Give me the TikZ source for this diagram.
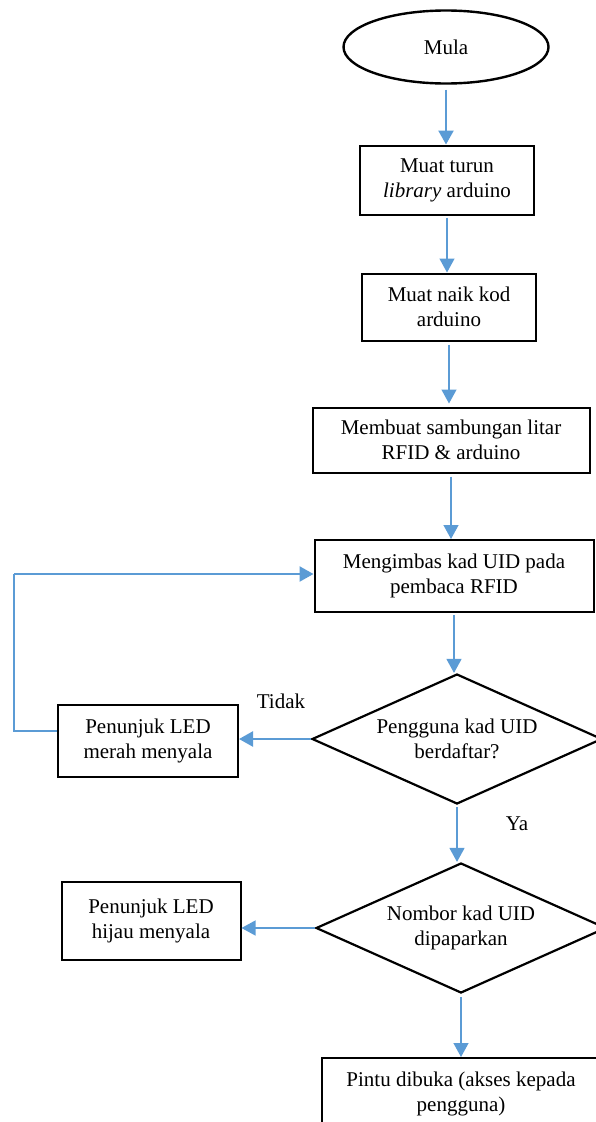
\documentclass[tikz,border=0pt]{standalone}
\usepackage{fontspec}
\setmainfont{Liberation Serif}
\usetikzlibrary{shapes.geometric,arrows.meta}

\definecolor{flowblue}{HTML}{5B9BD5}

\tikzset{
  startnode/.style={draw, ellipse, line width=2.4pt, inner sep=0pt,
    minimum width=205pt, minimum height=73pt},
  stepbox/.style={draw, rectangle, line width=2pt, align=center, inner sep=0pt},
  choice/.style={draw, diamond, line width=2.2pt, align=center, inner sep=0pt,
    aspect=2.2, minimum width=290pt, minimum height=130pt},
  flow/.style={flowblue, line width=1.3pt, -{Triangle[width=15pt,length=14pt]}},
  boldflow/.style={flow, line width=2.4pt},
  plainline/.style={flowblue, line width=1.2pt}
}

\begin{document}
\begin{tikzpicture}[x=1pt,y=-1pt,font=\fontsize{21}{25}\selectfont]
  \useasboundingbox (0,0) rectangle (596,1122);

  % main column
  \node[startnode] (mula) at (446,47) {Mula};
  \node[stepbox, minimum width=174pt, minimum height=69pt] (muatturun) at (447,180)
    {Muat turun\\\textit{library} arduino};
  \node[stepbox, minimum width=174pt, minimum height=67pt] (muatnaik) at (449,307)
    {Muat naik kod\\arduino};
  \node[stepbox, minimum width=277pt, minimum height=65pt] (sambung) at (451,440)
    {Membuat sambungan litar\\RFID \& arduino};
  \node[stepbox, minimum width=279pt, minimum height=72pt] (imbas) at (454,576)
    {Mengimbas kad UID pada\\pembaca RFID};
  \node[choice] (daftar) at (457,739) {Pengguna kad UID\\berdaftar?};
  \node[choice] (nombor) at (461,928) {Nombor kad UID\\dipaparkan};
  \node[stepbox, minimum width=278pt, minimum height=72pt] (pintu) at (461,1094)
    {Pintu dibuka (akses kepada\\pengguna)};

  % side boxes
  \node[stepbox, minimum width=180pt, minimum height=72pt] (merah) at (148,741)
    {Penunjuk LED\\merah menyala};
  \node[stepbox, minimum width=179pt, minimum height=78pt] (hijau) at (151,921)
    {Penunjuk LED\\hijau menyala};

  \node (tidak) at (281,701) {Tidak};
  \node (ya) at (517,824) {Ya};
  \coordinate (balik) at (14,574);

  % arrows
  \draw[boldflow, shorten <=5pt] (mula.south) -- (mula.south |- muatturun.north);
  \draw[flow, shorten <=2pt] (muatturun.south) -- (muatturun.south |- muatnaik.north);
  \draw[flow, shorten <=3pt, shorten >=3pt] (muatnaik.south) -- (muatnaik.south |- sambung.north);
  \draw[flow, shorten <=3pt] (sambung.south) -- (sambung.south |- imbas.north);
  \draw[flow, shorten <=2pt] (imbas.south) -- (imbas.south |- daftar.north);
  \draw[boldflow] (daftar.west) -- (daftar.west -| merah.east);
  \draw[flow, shorten <=2pt] (daftar.south) -- (daftar.south |- nombor.north);
  \draw[flow] (nombor.west) -- (nombor.west -| hijau.east);
  \draw[flow, shorten <=3pt] (nombor.south) -- (nombor.south |- pintu.north);

  % loop back
  \draw[plainline] ([yshift=10pt]merah.west) -| (balik);
  \draw[boldflow] (balik) -- (imbas.west |- balik);
\end{tikzpicture}
\end{document}
